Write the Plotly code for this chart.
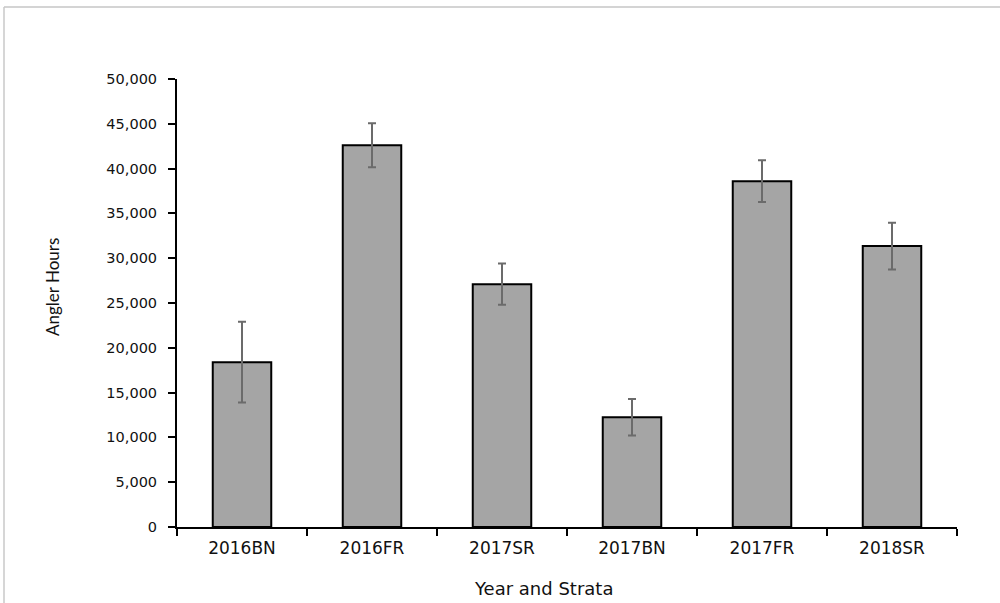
import plotly.graph_objects as go

categories = ["2016BN", "2016FR", "2017SR", "2017BN", "2017FR", "2018SR"]
angler_hours = [18400, 42600, 27100, 12250, 38600, 31350]
error_margin = [4500, 2450, 2300, 2030, 2340, 2600]
y_ticks = [0, 5000, 10000, 15000, 20000, 25000, 30000, 35000, 40000, 45000, 50000]

fig = go.Figure()
fig.add_trace(go.Bar(
    x=categories,
    y=angler_hours,
    width=0.45,
    marker=dict(color="#a5a5a5", line=dict(color="#000000", width=2)),
    error_y=dict(type="data", array=error_margin, visible=True,
                 color="#6b6b6b", thickness=2, width=4),
))

# plot area in pixels
L, R, T, B = 177, 957, 79, 527
W, H = 1000, 603
pw, ph = R - L, B - T

def px(x):
    return (x - L) / pw

def py(y):
    return (B - y) / ph

fig.update_layout(
    width=W, height=H,
    margin=dict(l=L, r=W - R, t=T, b=H - B, autoexpand=False),
    paper_bgcolor="white", plot_bgcolor="white",
    showlegend=False,
    font=dict(family="DejaVu Sans", color="#111111"),
    xaxis=dict(
        showline=True, linecolor="#000000", linewidth=2,
        ticks="outside", ticklen=7, tickwidth=2, tickcolor="#000000",
        tickson="boundaries",
        ticklabelstandoff=5,
        tickfont=dict(size=17, family="DejaVu Sans", color="#111111"),
        showgrid=False, zeroline=False,
    ),
    yaxis=dict(
        range=[0, 50000],
        tickvals=y_ticks,
        tickformat=",d",
        showline=True, linecolor="#000000", linewidth=2,
        ticks="outside", ticklen=7, tickwidth=2, tickcolor="#000000",
        ticklabelstandoff=8,
        tickfont=dict(size=14.5, family="DejaVu Sans", color="#111111"),
        showgrid=False, zeroline=False,
    ),
    shapes=[
        dict(type="line", xref="paper", yref="paper",
             x0=px(4), x1=px(1005), y0=py(7), y1=py(7),
             line=dict(color="#d4d4d4", width=2)),
        dict(type="line", xref="paper", yref="paper",
             x0=px(4), x1=px(4), y0=py(7), y1=py(610),
             line=dict(color="#c8c8c8", width=1.5)),
    ],
    annotations=[
        dict(text="Angler Hours", xref="paper", yref="paper",
             x=px(52), y=py(287), showarrow=False, textangle=-90,
             xanchor="center", yanchor="middle",
             font=dict(family="Lato", size=17, color="#111111")),
        dict(text="Year and Strata", xref="paper", yref="paper",
             x=px(543), y=py(588), showarrow=False,
             xanchor="center", yanchor="middle",
             font=dict(family="DejaVu Sans", size=18, color="#111111")),
    ],
)

fig.write_html("out.html",
               config={"displayModeBar": False},
               post_script="document.body.style.margin='0';document.body.style.overflow='hidden';")
